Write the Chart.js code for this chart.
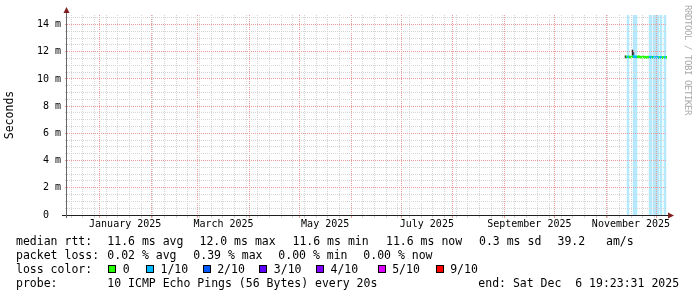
<!DOCTYPE html>
<html>
<head>
<meta charset="utf-8">
<script src="https://cdn.jsdelivr.net/npm/chart.js@4.4.1/dist/chart.umd.min.js"></script>
<style>
  html, body { margin:0; padding:0; background:#fff; overflow:hidden; }
  #wrap { position:relative; width:697px; height:297px; }
  #c { position:absolute; left:0; top:0; }
  .t { position:absolute; font-family:"DejaVu Sans Mono", monospace; font-size:11.5px; line-height:14px; white-space:pre; color:#000; }
  .sw { position:absolute; width:6px; height:6px; border:1px solid #000; }
  #credit { position:absolute; left:683px; top:5px; writing-mode:vertical-rl; font-family:"DejaVu Sans Mono", monospace; font-size:9px; letter-spacing:-0.42px; line-height:9px; color:#aaaaaa; white-space:pre; }
</style>
</head>
<body>
<div id="wrap">
<canvas id="c" width="697" height="297"></canvas>
<div id="legend"></div>
<div id="credit">RRDTOOL / TOBI OETIKER</div>
</div>
<script>
// ---- data (x = days since 1 Jan 2025) ----
const sampleDays = [315.7, 316.3, 316.9, 317.5, 318.1, 318.7, 319.3, 319.9, 320.5, 321.1,
                    321.7, 322.3, 322.9, 323.5, 324.1, 324.7, 325.3, 325.9, 326.5, 327.1,
                    327.7, 328.3, 328.9, 329.5, 330.1, 330.7, 331.3, 331.9, 332.5, 333.1,
                    333.7, 334.3, 334.9, 335.5, 336.1, 336.7, 337.3, 337.9, 338.5, 339.1,
                    339.7, 340.3];
const medianMs = [null, 11.62, 11.60, 11.62, 11.61, 11.60, 11.62, 11.64, 11.66, 11.63,
                  11.62, 11.60, 11.61, 11.63, 11.62, 11.60, 11.59, 11.61, 11.62, 11.60,
                  11.59, 11.58, 11.60, 11.61, 11.59, 11.58, 11.60, 11.59, 11.58, 11.57,
                  11.58, 11.59, 11.58, 11.57, 11.58, 11.59, 11.58, 11.57, 11.58, 11.59,
                  11.58, 11.58];
const lossCount = [0, 0, 1, 1, 0, 0, 0, 0, 1, 1,
                   1, 1, 0, 0, 0, 0, 0, 0, 0, 0,
                   0, 0, 0, 0, 1, 1, 1, 0, 1, 1,
                   1, 1, 1, 1, 0, 1, 1, 0, 0, 1,
                   1, 0];
const smokeLowMs  = [11.52, null, null, null, null, null, null, 11.60, 11.60, null];
const smokeHighMs = [11.70, null, null, null, null, null, null, 12.12, 11.95, null];
const smokeShade  = ['#202020', null, null, null, null, null, null, '#262626', '#505050', null];

const yMaxMs = 14.7;
const monthStartDays = [0, 31, 59, 90, 120, 151, 181, 212, 243, 273, 304, 334];
const monthLabelDays = [15.5, 74.5, 135.5, 196.5, 258, 319];
const monthLabels = ['January 2025', 'March 2025', 'May 2025', 'July 2025', 'September 2025', 'November 2025'];
const firstSundayDay = -17;
const yMajorValues = [0, 2, 4, 6, 8, 10, 12, 14];
const yMajorLabels = ['0  ', '2 m', '4 m', '6 m', '8 m', '10 m', '12 m', '14 m'];

const lossColors = ['#26ff00', '#00b8ff', '#0059ff', '#5e00ff', '#7e00ff', '#dd00ff', '#ff0000'];
const lossLegendLabels = ['0', '1/10', '2/10', '3/10', '4/10', '5/10', '9/10'];
const lossBackground = '#b3eaff';

const rttItems = ['median rtt:', '11.6 ms avg', '12.0 ms max', '11.6 ms min', '11.6 ms now', '0.3 ms sd', '39.2   am/s'];
const rttX     = [16, 107.3, 199.5, 292.5, 386, 479, 557.5];
const lossItems = ['packet loss:', '0.02 % avg', '0.39 % max', '0.00 % min', '0.00 % now'];
const lossItemX = [16, 107.3, 193.3, 278.3, 363.3];
const swatchX = [108.3, 146, 202.7, 259.3, 316, 377.7, 435.7];
const probeItems = ['probe:', '10 ICMP Echo Pings (56 Bytes) every 20s', 'end: Sat Dec  6 19:23:31 2025'];
const probeX = [16, 107.3, 478.3];

// ---- legend (HTML text) ----
const leg = document.getElementById('legend');
function addText(txt, x, y) {
  const d = document.createElement('div');
  d.className = 't'; d.textContent = txt;
  d.style.left = x + 'px'; d.style.top = y + 'px';
  leg.appendChild(d);
}
rttItems.forEach((s, i) => addText(s, rttX[i], 234));
lossItems.forEach((s, i) => addText(s, lossItemX[i], 248));
addText('loss color:', 16, 262);
swatchX.forEach((x, i) => {
  const b = document.createElement('div');
  b.className = 'sw'; b.style.left = x + 'px'; b.style.top = '265px';
  b.style.background = lossColors[i];
  leg.appendChild(b);
  addText(lossLegendLabels[i], x + 14.5, 262);
});
probeItems.forEach((s, i) => addText(s, probeX[i], 276));

// ---- datasets built from the arrays ----
const halfPx = yMaxMs / 200;
const medianData = [], medianCols = [], lossData = [], smokeData = [], smokeCols = [];
sampleDays.forEach((d, i) => {
  if (medianMs[i] !== null) {
    medianData.push({x: d, y: [medianMs[i] - halfPx, medianMs[i] + halfPx]});
    medianCols.push(lossColors[Math.min(lossCount[i], 6)]);
  }
  if (lossCount[i] > 0) lossData.push({x: d, y: [0, yMaxMs]});
  if (i < smokeLowMs.length && smokeLowMs[i] !== null) {
    smokeData.push({x: d, y: [smokeLowMs[i], smokeHighMs[i]]});
    smokeCols.push(smokeShade[i]);
  }
});

const GRID = '#d4d4d4';
const MGRID = '#eb9a9a';
const FONT = 'DejaVu Sans Mono';

const axisPlugin = {
  id: 'rrdAxes',
  afterDraw(chart) {
    const {ctx, chartArea: a} = chart;
    const x0 = Math.round(a.left) - 0.5;
    const y0 = Math.round(a.bottom) + 0.5;
    ctx.save();
    ctx.lineWidth = 1;
    ctx.strokeStyle = '#1f1f1f';
    ctx.beginPath();
    ctx.moveTo(a.left - 5, y0); ctx.lineTo(a.right + 2, y0);
    ctx.stroke();
    ctx.strokeStyle = '#666666';
    ctx.beginPath();
    ctx.moveTo(x0, a.bottom + 3); ctx.lineTo(x0, a.top - 3);
    ctx.stroke();
    ctx.fillStyle = '#801f1f';
    ctx.beginPath();
    ctx.moveTo(x0 - 3, a.top - 2); ctx.lineTo(x0 + 3, a.top - 2); ctx.lineTo(x0, a.top - 8); ctx.closePath();
    ctx.fill();
    ctx.beginPath();
    ctx.moveTo(a.right + 1, y0 - 3); ctx.lineTo(a.right + 1, y0 + 3); ctx.lineTo(a.right + 7, y0); ctx.closePath();
    ctx.fill();
    ctx.restore();
  }
};

const barCommon = {type: 'bar', grouped: false, barPercentage: 1, categoryPercentage: 1, borderWidth: 0};

new Chart(document.getElementById('c'), {
  type: 'bar',
  data: {
    datasets: [
      Object.assign({label: 'loss', data: lossData, backgroundColor: lossBackground, order: 3}, barCommon),
      Object.assign({label: 'smoke', data: smokeData, backgroundColor: smokeCols, order: 2}, barCommon),
      Object.assign({label: 'median', data: medianData, backgroundColor: medianCols, order: 1}, barCommon)
    ]
  },
  options: {
    responsive: false,
    animation: false,
    events: [],
    layout: {padding: {left: 0, right: 30, top: 15, bottom: 0}, autoPadding: false},
    plugins: {legend: {display: false}, tooltip: {enabled: false}},
    scales: {
      x: {
        type: 'linear', min: -19.4, max: 340.6, offset: false,
        afterBuildTicks(s) {
          const t = [];
          for (let d = firstSundayDay; d <= 339.8; d += 7) {
            if (!monthStartDays.includes(d)) t.push({value: d, kind: 'minor'});
          }
          monthStartDays.forEach(d => t.push({value: d, kind: 'major'}));
          monthLabelDays.forEach((d, i) => t.push({value: d, kind: 'label', text: monthLabels[i]}));
          t.sort((p, q) => p.value - q.value);
          s.ticks = t;
        },
        afterFit(s) { s.height = 82; },
        grid: {
          offset: false, z: 1, lineWidth: 1, drawTicks: true, tickLength: 3,
          color: c => c.tick ? (c.tick.kind === 'major' ? MGRID : c.tick.kind === 'minor' ? GRID : 'rgba(0,0,0,0)') : GRID,
          tickColor: c => c.tick ? (c.tick.kind === 'major' ? MGRID : c.tick.kind === 'minor' ? GRID : 'rgba(0,0,0,0)') : GRID
        },
        border: {display: false, dash: [1, 1]},
        ticks: {
          autoSkip: false, maxRotation: 0, minRotation: 0, padding: 0, color: '#000',
          font: {family: FONT, size: 10},
          callback: (v, i, ticks) => ticks[i].text || ''
        }
      },
      y: {
        type: 'linear', min: 0, max: yMaxMs,
        afterBuildTicks(s) {
          const t = [];
          for (let v = 0; v <= 14.5; v += 0.5) {
            const k = yMajorValues.indexOf(v);
            t.push({value: v, kind: k >= 0 ? 'major' : 'minor', text: k >= 0 ? yMajorLabels[k] : ''});
          }
          s.ticks = t;
        },
        afterFit(s) { s.width = 67; },
        grid: {
          z: 1, lineWidth: 1, drawTicks: true, tickLength: 2,
          color: c => c.tick && c.tick.kind === 'major' ? MGRID : GRID,
          tickColor: c => c.tick && c.tick.kind === 'major' ? MGRID : GRID
        },
        border: {display: false, dash: [1, 1]},
        ticks: {
          autoSkip: false, padding: 4, color: '#000',
          font: {family: FONT, size: 10},
          callback: (v, i, ticks) => ticks[i].text || ''
        },
        title: {display: true, text: 'Seconds', color: '#000', font: {family: FONT, size: 11.5}, padding: {top: 3.5, bottom: 0}}
      }
    }
  },
  plugins: [axisPlugin]
});
</script>
</body>
</html>
